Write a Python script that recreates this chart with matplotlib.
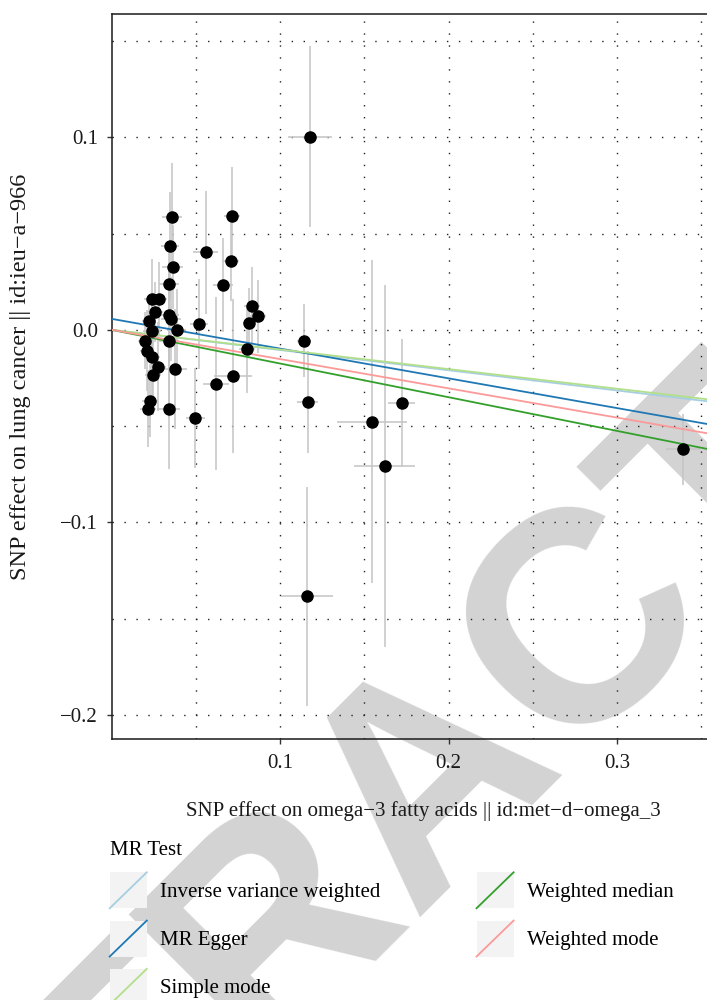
import matplotlib.pyplot as plt
from matplotlib.legend_handler import HandlerBase
from matplotlib.lines import Line2D
from matplotlib.patches import Rectangle

plt.rcParams['font.family'] = ['Liberation Serif', 'DejaVu Serif']

# SNP effects on exposure (omega-3) and outcome (lung cancer), with standard errors
beta_x = [0.1178, 0.0361, 0.0715, 0.0347, 0.0559, 0.0363, 0.0709, 0.0339, 0.0663, 0.0239,
          0.0280, 0.0260, 0.0836, 0.0869, 0.0816, 0.0221, 0.0343, 0.0351, 0.0521, 0.0240,
          0.0387, 0.1142, 0.0197, 0.0341, 0.0212, 0.0806, 0.0242, 0.0278, 0.0375, 0.0248,
          0.0622, 0.0721, 0.1164, 0.0228, 0.0218, 0.0339, 0.0497, 0.1544, 0.1722, 0.1621,
          0.1158, 0.3392]
se_x = [0.013, 0.006, 0.0047, 0.0053, 0.0074, 0.0062, 0.0047, 0.006, 0.006, 0.0047,
        0.0047, 0.0047, 0.0047, 0.0047, 0.0036, 0.0042, 0.006, 0.006, 0.0053, 0.0053,
        0.0056, 0.0042, 0.0042, 0.006, 0.0042, 0.0047, 0.0047, 0.0047, 0.0075, 0.0047,
        0.0077, 0.0113, 0.0062, 0.0047, 0.0047, 0.0068, 0.0056, 0.0208, 0.008, 0.018,
        0.0154, 0.01]
beta_y = [0.1002, 0.0588, 0.0593, 0.0437, 0.0402, 0.0326, 0.0357, 0.0236, 0.0234, 0.0160,
          0.0160, 0.0092, 0.0125, 0.0071, 0.0035, 0.0048, 0.0078, 0.0056, 0.0031, -0.0007,
          0.0000, -0.0056, -0.0056, -0.0056, -0.0108, -0.0100, -0.0139, -0.0191, -0.0203, -0.0234,
          -0.0279, -0.0239, -0.0374, -0.0368, -0.0409, -0.0412, -0.0458, -0.0477, -0.0380, -0.0709,
          -0.1384, -0.0620]
se_y = [0.047, 0.028, 0.0255, 0.028, 0.032, 0.022, 0.021, 0.021, 0.0245, 0.021,
        0.019, 0.0156, 0.02, 0.019, 0.018, 0.012, 0.025, 0.022, 0.0235, 0.018,
        0.021, 0.019, 0.0146, 0.04, 0.021, 0.023, 0.021, 0.023, 0.031, 0.021,
        0.045, 0.040, 0.0265, 0.019, 0.02, 0.031, 0.026, 0.084, 0.033, 0.094,
        0.057, 0.0185]

# MR method fits: (label, intercept, slope, colour)
methods = ['Inverse variance weighted', 'MR Egger', 'Simple mode', 'Weighted median', 'Weighted mode']
intercepts = [0.0, 0.0057, 0.0, 0.0, 0.0]
slopes = [-0.105, -0.1545, -0.102, -0.175, -0.152]
colors = ['#A6CEE3', '#1F78B4', '#B2DF8A', '#33A02C', '#FB9A99']

xlim = (0.0, 0.36)
ylim = (-0.2125, 0.164)
FS = 15

fig = plt.figure(figsize=(7.07, 10), dpi=100)

# faint watermark behind the chart
fig.text(487 / 707, 1 - 831 / 1000, 'RETRACTED', fontsize=216, fontweight='bold', family='Liberation Sans',
         color='#d3d3d3', rotation=45, rotation_mode='anchor', ha='center', va='baseline', zorder=-5)

axw = 0.36 * 1685
ax = fig.add_axes([111.5 / 707, 0.261, axw / 707, 0.725])
ax.set_facecolor('none')

grid_kw = dict(color='#222222', lw=1.0, ls=(0, (1, 7.6)), zorder=0)
for gx in [0.05, 0.1, 0.15, 0.2, 0.25, 0.3, 0.35]:
    ax.axvline(gx, **grid_kw)
for gy in [-0.2, -0.15, -0.1, -0.05, 0.0, 0.05, 0.1, 0.15]:
    ax.axhline(gy, **grid_kw)

ax.errorbar(beta_x, beta_y, yerr=se_y, fmt='none', ecolor='#c4c4c4', elinewidth=1.1, capsize=0, zorder=2)
ax.errorbar(beta_x, beta_y, xerr=se_x, fmt='none', ecolor='#c4c4c4', elinewidth=1.1, capsize=0, zorder=2)

handles = []
for name, a, b, c in zip(methods, intercepts, slopes, colors):
    ln, = ax.plot(xlim, [a + b * xlim[0], a + b * xlim[1]], color=c, lw=1.3, zorder=3, label=name)
    handles.append(ln)

ax.plot(beta_x, beta_y, 'o', color='black', markersize=8, zorder=4)

ax.set_xlim(xlim)
ax.set_ylim(ylim)
ax.set_xticks([0.1, 0.2, 0.3])
ax.set_xticklabels(['0.1', '0.2', '0.3'])
ax.set_yticks([-0.2, -0.1, 0.0, 0.1])
ax.set_yticklabels(['\u22120.2', '\u22120.1', '0.0', '0.1'])
ax.tick_params(length=3.6, width=1.0, color='#333333', labelsize=FS, labelcolor='#1a1a1a')
ax.tick_params(axis='y', pad=6)
ax.tick_params(axis='x', pad=7.5)
for s in ax.spines.values():
    s.set_color('#1a1a1a')
    s.set_linewidth(1.1)

ax.set_xlabel('SNP effect on omega\u22123 fatty acids || id:met\u2212d\u2212omega_3', fontsize=FS,
              color='#1a1a1a')
ax.set_ylabel('SNP effect on lung cancer || id:ieu\u2212a\u2212966', fontsize=17.5, color='#1a1a1a')
ax.xaxis.set_label_coords((423.5 - 111.5) / axw, -62 / 725)
ax.yaxis.set_label_coords((31 - 111.5) / axw, 0.5)


class DiagHandler(HandlerBase):
    def create_artists(self, legend, orig_handle, xdescent, ydescent, width, height, fontsize, trans):
        bg = Rectangle((-xdescent, -ydescent), width, height, facecolor='#f3f3f3', edgecolor='none',
                       transform=trans)
        ln = Line2D([-xdescent, -xdescent + width], [-ydescent, -ydescent + height],
                    color=orig_handle.get_color(), lw=1.3, transform=trans)
        return [bg, ln]


leg = fig.legend(handles=handles, labels=methods, ncol=2, title='MR Test', loc='upper left',
                 bbox_to_anchor=(109.7 / 707, 1 - 841 / 1000), frameon=False, fontsize=FS,
                 title_fontsize=FS, alignment='left', borderpad=0, borderaxespad=0,
                 handlelength=1.78, handleheight=2.28, handletextpad=0.65, labelspacing=0.59,
                 columnspacing=4.6, handler_map={Line2D: DiagHandler()})

plt.savefig('out.png', dpi=100)
